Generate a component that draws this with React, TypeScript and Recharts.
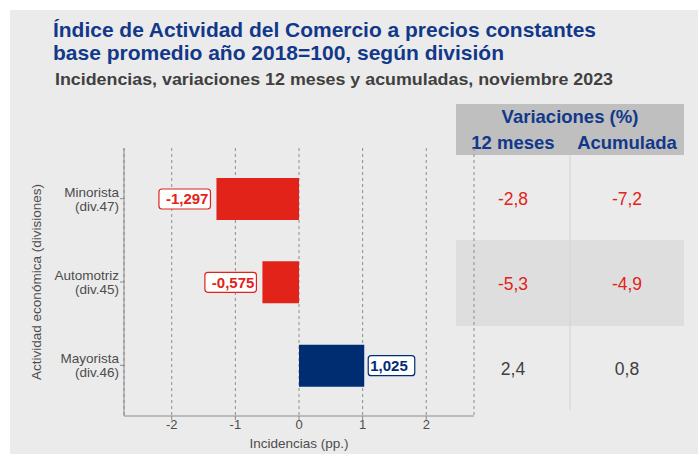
import React from 'react'
import { BarChart, Bar, XAxis, YAxis, CartesianGrid, Cell, LabelList } from 'recharts'

const categories = ['Minorista', 'Automotriz', 'Mayorista']
const divisions = ['(div.47)', '(div.45)', '(div.46)']
const incidencias = [-1.297, -0.575, 1.025]
const var12 = [-2.8, -5.3, 2.4]
const varAcum = [-7.2, -4.9, 0.8]
const xTicks = [-2, -1, 0, 1, 2]

const RED = '#e2231a'
const NAVY = '#002d72'
const TITLE_BLUE = '#12388a'
const AXIS_TEXT = '#4d4d4d'
const SANS = "'Liberation Sans', Arial, sans-serif"

const data = categories.map((name, i) => ({ name, value: incidencias[i] }))

const fmt = (v: number, d: number) => v.toFixed(d).replace('.', ',')

// rough width of bold 15px digits/punctuation
const labelWidth = (s: string) =>
  s.split('').reduce((w, c) => w + (c === ',' ? 4.17 : c === '-' ? 5 : 8.34), 0)

const CatTick = (props: any) => {
  const { x, y, payload } = props
  const i = categories.indexOf(payload.value)
  return (
    <text textAnchor="end" fontSize={13.5} fill={AXIS_TEXT} fontFamily={SANS}>
      <tspan x={x} y={y - 2}>{payload.value}</tspan>
      <tspan x={x} y={y + 12}>{divisions[i]}</tspan>
    </text>
  )
}

const ValueLabel = (props: any) => {
  const { x, y, width, height, value } = props
  const v = Number(value)
  const text = fmt(v, 3)
  const w = labelWidth(text) + 9
  const left = Math.min(x, x + width)
  const right = Math.max(x, x + width)
  const neg = v < 0
  const bx = neg ? left - 6 - w : right + 4
  const cy = y + height / 2
  const color = neg ? RED : NAVY
  return (
    <g>
      <rect x={bx} y={cy - 10} width={w} height={20} rx={3} fill="#fff" stroke={color} strokeWidth={1.2} />
      <text
        x={neg ? bx + w - 2 : bx + 2}
        y={cy + 5.4}
        textAnchor={neg ? 'end' : 'start'}
        fontWeight="bold"
        fontSize={15}
        fill={color}
        fontFamily={SANS}
      >
        {text}
      </text>
    </g>
  )
}

const rowY = [198, 283, 368]

export default function App() {
  return (
    <div style={{ position: 'absolute', left: 0, top: 0, width: 698, height: 454, background: '#fff', overflow: 'hidden' }}>
      <div style={{ position: 'absolute', left: 10, top: 10, width: 688, height: 444, background: '#ebebeb' }} />

      <svg width={698} height={454} style={{ position: 'absolute', left: 0, top: 0 }}>
        {/* titles */}
        <text x={53} y={37} fontSize={20.5} fontWeight="bold" fill={TITLE_BLUE} fontFamily={SANS}
          textLength={543} lengthAdjust="spacingAndGlyphs">
          Índice de Actividad del Comercio a precios constantes
        </text>
        <text x={53} y={60} fontSize={20.5} fontWeight="bold" fill={TITLE_BLUE} fontFamily={SANS}
          textLength={451} lengthAdjust="spacingAndGlyphs">
          base promedio año 2018=100, según división
        </text>
        <text x={55} y={85} fontSize={16.5} fontWeight="bold" fill="#404040" fontFamily={SANS}
          textLength={558} lengthAdjust="spacingAndGlyphs">
          Incidencias, variaciones 12 meses y acumuladas, noviembre 2023
        </text>

        {/* side table */}
        <rect x={456} y={104} width={228} height={51} fill="#bfbfbf" />
        <rect x={456} y={240} width={228} height={86} fill="#dedede" />
        <line x1={570} y1={155} x2={570} y2={410} stroke="#d2d2d2" strokeWidth={1} />
        <text x={570} y={123} textAnchor="middle" fontSize={18.5} fontWeight="bold" fill={TITLE_BLUE} fontFamily={SANS}>
          Variaciones (%)
        </text>
        <text x={513} y={149} textAnchor="middle" fontSize={18.5} fontWeight="bold" fill={TITLE_BLUE} fontFamily={SANS}>
          12 meses
        </text>
        <text x={627} y={149} textAnchor="middle" fontSize={18.5} fontWeight="bold" fill={TITLE_BLUE} fontFamily={SANS}>
          Acumulada
        </text>
        {categories.map((c, i) => (
          <g key={c}>
            <text x={513} y={rowY[i] + 7} textAnchor="middle" fontSize={17.5} fill={var12[i] < 0 ? RED : '#404040'} fontFamily={SANS}>
              {fmt(var12[i], 1)}
            </text>
            <text x={627} y={rowY[i] + 7} textAnchor="middle" fontSize={17.5} fill={varAcum[i] < 0 ? RED : '#404040'} fontFamily={SANS}>
              {fmt(varAcum[i], 1)}
            </text>
          </g>
        ))}

        {/* axis titles */}
        <text x={299} y={448} textAnchor="middle" fontSize={13.5} fill={AXIS_TEXT} fontFamily={SANS}>
          Incidencias (pp.)
        </text>
        <text x={41} y={282} textAnchor="middle" fontSize={13.5} fill={AXIS_TEXT} fontFamily={SANS} transform="rotate(-90 41 282)">
          Actividad económica (divisiones)
        </text>
      </svg>

      <div style={{ position: 'absolute', left: 0, top: 0 }}>
        <BarChart
          width={480}
          height={454}
          data={data}
          layout="vertical"
          margin={{ top: 148, right: 6, left: 24, bottom: 8 }}
        >
          <CartesianGrid horizontal={false} stroke="#8c8c8c" strokeDasharray="3 3" />
          <XAxis
            type="number"
            domain={[-2.75, 2.75]}
            ticks={xTicks}
            allowDataOverflow
            height={30}
            tickSize={4}
            tickMargin={0}
            stroke="#8c8c8c"
            tick={{ fontSize: 13, fill: AXIS_TEXT, fontFamily: SANS }}
          />
          <YAxis
            type="category"
            dataKey="name"
            width={100}
            tickSize={4}
            tickMargin={1}
            stroke="#8c8c8c"
            padding={{ top: 9, bottom: 9 }}
            tick={<CatTick />}
          />
          <Bar dataKey="value" barSize={42} isAnimationActive={false}>
            {data.map((d) => (
              <Cell key={d.name} fill={d.value < 0 ? RED : NAVY} />
            ))}
            <LabelList dataKey="value" content={<ValueLabel />} />
          </Bar>
        </BarChart>
      </div>
    </div>
  )
}
